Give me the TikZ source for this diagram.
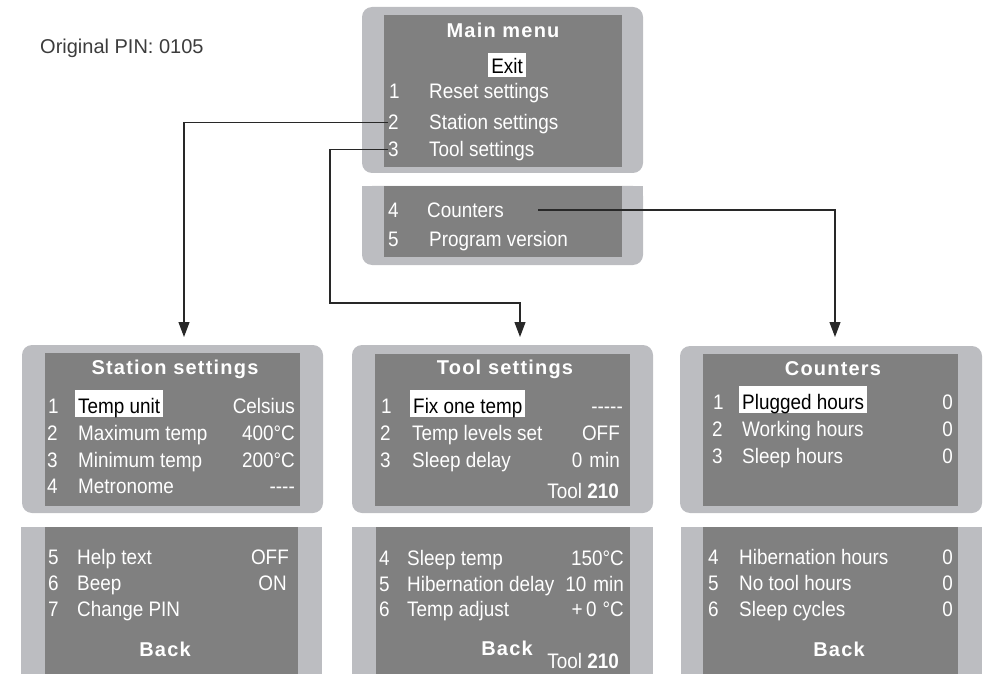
\documentclass[tikz,border=0pt]{standalone}
\usepackage{fontspec}
\setmainfont{Liberation Sans}
\newfontfamily\lcd[FakeStretch=0.9]{Liberation Sans}
\newfontfamily\lcdt[LetterSpace=6]{Liberation Sans}
\usetikzlibrary{arrows.meta}
\definecolor{outerc}{RGB}{188,189,193}
\definecolor{innerc}{RGB}{128,128,128}
\definecolor{linec}{RGB}{40,40,40}
\definecolor{pinc}{RGB}{60,60,60}
\begin{document}
\begin{tikzpicture}[x=1pt,y=-1pt,
  outerp/.style={fill=outerc},
  innerp/.style={fill=innerc},
  num/.style={anchor=base west, inner sep=0pt, text=white, font=\lcd\fontsize{21}{21}\selectfont},
  lab/.style={num},
  val/.style={anchor=base east, inner sep=0pt, text=white, font=\lcd\fontsize{21}{21}\selectfont},
  ttl/.style={anchor=base, inner sep=0pt, text=white, font=\lcdt\bfseries\fontsize{20}{20}\selectfont},
  hl/.style={anchor=base west, fill=white, text=black, text height=19pt, text depth=0pt, inner ysep=4pt, inner xsep=3pt, font=\lcd\fontsize{21}{21}\selectfont},
  conn/.style={draw=linec, line width=1.1pt},
  arr/.style={conn, -{Triangle[length=15pt,width=11pt]}}
]
\clip (0,0) rectangle (983,674);
% main menu panels
\fill[outerp, rounded corners=10pt] (362,7) rectangle (643,173);
\fill[innerp] (384,15) rectangle (622,167);
\fill[outerp, rounded corners=10pt] (362,186) rectangle (643,265);
\fill[outerp] (362,186) rectangle (643,200);
\fill[innerp] (384,186) rectangle (622,257);
% lower panels, upper parts
\fill[outerp, rounded corners=10pt] (22,345) rectangle (323,513);
\fill[innerp] (45,353) rectangle (300,506);
\fill[outerp, rounded corners=10pt] (352,345) rectangle (653,513);
\fill[innerp] (375,354) rectangle (630,506);
\fill[outerp, rounded corners=10pt] (680,346) rectangle (982,513);
\fill[innerp] (703,354) rectangle (958,506);
% lower panels, lower parts
\fill[outerp] (21,527) rectangle (322,680);
\fill[innerp] (45,527) rectangle (298,680);
\fill[outerp] (352,527) rectangle (653,680);
\fill[innerp] (376,527) rectangle (630,680);
\fill[outerp] (681,527) rectangle (982,680);
\fill[innerp] (703,527) rectangle (958,680);

\node[anchor=base west, inner sep=0pt, text=pinc, font=\fontsize{20}{20}\selectfont] (pin) at (40,54) {Original PIN: 0105};

% main menu
\node[ttl] (mt) at (503,38) {Main menu};
\node[hl, anchor=base, inner ysep=3pt, text height=18pt] (mx) at (507,74) {Exit};
\node[num] (m1n) at (389,99) {1}; \node[lab] (m1) at (429,99) {Reset settings};
\node[num] (m2n) at (388,130) {2}; \node[lab] (m2) at (429,130) {Station settings};
\node[num] (m3n) at (388,157) {3}; \node[lab] (m3) at (429,157) {Tool settings};
\node[num] (m4n) at (388,217) {4}; \node[lab] (m4) at (427,217) {Counters};
\node[num] (m5n) at (388,246) {5}; \node[lab] (m5) at (429,246) {Program version};

% station settings
\node[ttl] (st) at (175,374) {Station settings};
\node[num] (s1n) at (48,413) {1}; \node[hl] (s1) at (75,413) {Temp unit}; \node[val] (s1v) at (295,413) {Celsius};
\node[num] (s2n) at (47,440) {2}; \node[lab] (s2) at (78,440) {Maximum temp}; \node[val] (s2v) at (295,440) {400°C};
\node[num] (s3n) at (47,467) {3}; \node[lab] (s3) at (78,467) {Minimum temp}; \node[val] (s3v) at (295,467) {200°C};
\node[num] (s4n) at (47,493) {4}; \node[lab] (s4) at (78,493) {Metronome}; \node[val] (s4v) at (295,493) {----};
\node[num] (s5n) at (48,564) {5}; \node[lab] (s5) at (77,564) {Help text}; \node[val] (s5v) at (289,564) {OFF};
\node[num] (s6n) at (48,590) {6}; \node[lab] (s6) at (77,590) {Beep}; \node[val] (s6v) at (287,590) {ON};
\node[num] (s7n) at (48,616) {7}; \node[lab] (s7) at (77,616) {Change PIN};
\node[ttl] (sb) at (165,656) {Back};

% tool settings
\node[ttl] (tt) at (505,374) {Tool settings};
\node[num] (t1n) at (381,413) {1}; \node[hl] (t1) at (410,413) {Fix one temp}; \node[val] (t1v) at (623,413) {-----};
\node[num] (t2n) at (380,440) {2}; \node[lab] (t2) at (412,440) {Temp levels set}; \node[val] (t2v) at (620,440) {OFF};
\node[num] (t3n) at (380,467) {3}; \node[lab] (t3) at (412,467) {Sleep delay}; \node[val] (t3v) at (620,467) {0\hspace{7pt}min};
\node[val] (tta) at (619,498) {Tool \textbf{210}};
\node[num] (t4n) at (379,565) {4}; \node[lab] (t4) at (407,565) {Sleep temp}; \node[val] (t4v) at (624,565) {150°C};
\node[num] (t5n) at (379,591) {5}; \node[lab] (t5) at (407,591) {Hibernation delay}; \node[val] (t5v) at (624,591) {10\hspace{7pt}min};
\node[num] (t6n) at (379,616) {6}; \node[lab] (t6) at (407,616) {Temp adjust}; \node[val] (t6v) at (624,616) {+\,0\hspace{6pt}°C};
\node[ttl] (tb) at (507,655) {Back};
\node[val] (ttb) at (619,668) {Tool \textbf{210}};

% counters
\node[ttl] (ct) at (833,375) {Counters};
\node[num] (c1n) at (713,409) {1}; \node[hl] (c1) at (739,409) {Plugged hours}; \node[val] (c1v) at (953,409) {0};
\node[num] (c2n) at (712,436) {2}; \node[lab] (c2) at (742,436) {Working hours}; \node[val] (c2v) at (953,436) {0};
\node[num] (c3n) at (712,463) {3}; \node[lab] (c3) at (742,463) {Sleep hours}; \node[val] (c3v) at (953,463) {0};
\node[num] (c4n) at (708,564) {4}; \node[lab] (c4) at (739,564) {Hibernation hours}; \node[val] (c4v) at (953,564) {0};
\node[num] (c5n) at (708,590) {5}; \node[lab] (c5) at (739,590) {No tool hours}; \node[val] (c5v) at (953,590) {0};
\node[num] (c6n) at (708,616) {6}; \node[lab] (c6) at (739,616) {Sleep cycles}; \node[val] (c6v) at (953,616) {0};
\node[ttl] (cb) at (839,656) {Back};

% connectors
\coordinate (a1) at (184,337);
\coordinate (b2) at (330,303);
\coordinate (a2) at (520,337);
\coordinate (cs) at (538,210);
\coordinate (a3) at (835,337);
\draw[arr] (m2n.west) -| (a1);
\draw[arr] (m3n.west) -| (b2) -| (a2);
\draw[arr] (cs) -| (a3);
\end{tikzpicture}
\end{document}
